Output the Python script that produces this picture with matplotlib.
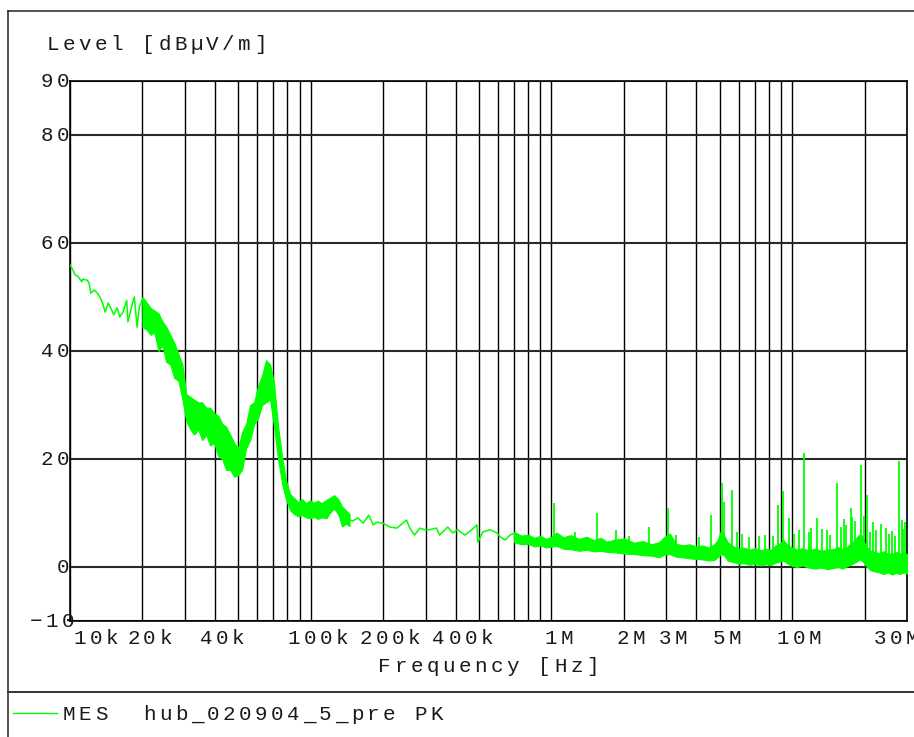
import numpy as np
import matplotlib
matplotlib.use("Agg")
import matplotlib.pyplot as plt
from matplotlib.lines import Line2D
from matplotlib.ticker import LogLocator, NullFormatter

W, H = 914, 737

# sweep below ~21 kHz, single thin trace
low_khz = [10.0, 10.2, 10.5, 10.8, 11.2, 11.3, 11.8, 12.0, 12.2, 12.6, 13.0, 13.3,
           13.6, 14.0, 14.4, 14.9, 15.2, 15.7, 16.1, 16.6, 17.2, 17.4, 18.1, 18.5,
           19.0, 19.4, 20.1, 20.5, 21.0, 21.5]
low_lvl = [55.9, 55.3, 54.1, 53.8, 52.8, 53.3, 53.1, 52.6, 50.7, 51.3, 50.7, 50.0,
           49.1, 47.2, 48.9, 47.6, 46.7, 48.0, 46.3, 47.2, 49.4, 45.4, 48.5, 50.0,
           44.4, 48.1, 49.8, 44.4, 46.3, 43.9]

# noisy stretch 20k..145k: lower / upper swing of the trace
lf_khz = [20.0, 20.8, 21.6, 22.4, 23.3, 24.2, 25.1, 26.1, 27.1, 28.2, 29.3, 30.4,
          31.6, 32.8, 34.1, 35.4, 36.8, 38.2, 39.7, 41.3, 42.9, 44.5, 46.3, 48.1,
          49.9, 51.9, 53.9, 56.0, 58.2, 60.4, 62.8, 65.2, 67.8, 70.4, 73.2, 76.0,
          79.0, 82.1, 85.3, 88.6, 92.0, 95.6, 99.4, 103, 107, 111, 116, 120, 125,
          130, 135, 140, 145]
lf_lo = [44.4, 44.0, 43.0, 43.5, 40.0, 41.0, 38.0, 37.5, 35.0, 34.5, 31.0, 27.0,
         25.5, 24.5, 25.5, 23.5, 24.5, 22.5, 23.0, 20.5, 20.0, 18.0, 18.0, 16.7,
         17.0, 18.0, 22.0, 23.5, 26.5, 27.5, 30.0, 30.5, 31.0, 26.0, 20.0, 15.5,
         12.5, 10.5, 9.8, 9.4, 9.6, 9.2, 9.0, 9.3, 8.9, 9.2, 9.0, 10.0, 10.8,
         9.8, 7.5, 8.0, 7.6]
lf_hi = [50.0, 49.0, 48.0, 47.5, 47.0, 45.5, 44.5, 43.0, 41.5, 39.5, 37.5, 32.0,
         31.5, 31.0, 30.5, 30.5, 29.5, 29.5, 28.5, 28.0, 26.5, 26.0, 24.5, 23.0,
         22.0, 25.0, 26.5, 30.0, 30.5, 33.5, 35.5, 38.3, 37.5, 34.0, 26.0, 20.5,
         16.0, 13.5, 12.8, 12.0, 12.6, 11.8, 12.4, 11.9, 12.3, 11.8, 12.4, 12.8,
         13.3, 12.6, 11.2, 10.5, 9.8]

# thin trace 140k..700k
mid_khz = [142, 149, 157, 165, 174, 182, 188, 200, 213, 228, 241, 250, 258, 270,
           284, 297, 312, 333, 343, 371, 389, 408, 437, 467, 490, 495, 519, 555,
           594, 612, 642, 673, 706]
mid_lvl = [9.0, 8.5, 9.1, 8.1, 9.6, 7.8, 8.3, 8.1, 7.4, 7.2, 8.1, 8.7, 7.2, 5.9,
           7.2, 6.9, 6.9, 7.2, 5.9, 7.4, 6.3, 6.9, 5.9, 6.9, 7.8, 4.6, 6.5, 6.9,
           6.3, 5.6, 5.0, 5.9, 6.3]

# noise floor 700k..30M: lower / upper edge
hf_mhz = [0.70, 0.75, 0.80, 0.85, 0.90, 0.95, 1.0, 1.05, 1.12, 1.2, 1.3, 1.4, 1.5,
          1.6, 1.7, 1.85, 2.0, 2.2, 2.4, 2.6, 2.8, 2.95, 3.1, 3.3, 3.5, 3.75, 4.0,
          4.25, 4.5, 4.75, 4.9, 5.05, 5.2, 5.4, 5.7, 6.0, 6.3, 6.65, 7.0, 7.4, 7.8,
          8.2, 8.5, 8.9, 9.2, 9.6, 10.0, 10.5, 11.0, 11.7, 12.5, 13.2, 14.0, 14.8,
          15.5, 16.2, 17.0, 17.8, 18.5, 19.0, 19.5, 20.0, 20.5, 21.2, 22.0, 23.0,
          24.0, 25.0, 26.0, 27.0, 28.0, 29.0, 30.0]
hf_lo = [4.6, 4.2, 4.3, 3.8, 4.0, 3.6, 3.8, 3.9, 3.4, 3.3, 3.0, 3.2, 2.9,
         3.0, 2.8, 2.7, 2.5, 2.4, 2.2, 2.1, 1.8, 2.3, 2.4, 1.9, 1.8, 1.6, 1.5,
         1.4, 1.2, 1.3, 1.8, 2.4, 2.2, 1.2, 0.9, 0.6, 0.7, 0.4, 0.6, 0.3, 0.5,
         0.4, 0.8, 1.0, 1.2, 0.6, 0.2, 0.0, 0.3, -0.1, -0.3, -0.1, -0.4, -0.2,
         0.0, -0.3, 0.2, 0.6, 1.0, 1.4, 1.2, 0.6, 0.0, -0.6, -0.8, -1.0,
         -1.3, -1.0, -1.4, -1.1, -1.3, -1.0, -1.2]
hf_hi = [6.5, 5.8, 6.0, 5.4, 5.8, 5.2, 5.6, 6.4, 5.5, 5.9, 5.2, 5.6, 5.0,
         5.4, 4.7, 5.1, 5.3, 4.5, 4.8, 4.2, 4.6, 5.6, 6.2, 4.3, 4.0, 4.2, 3.8,
         4.0, 3.6, 4.2, 5.0, 6.6, 6.0, 4.6, 3.8, 3.4, 3.6, 3.2, 3.5, 3.1, 3.4,
         3.2, 3.9, 4.4, 5.0, 4.0, 3.6, 3.2, 3.5, 3.1, 3.4, 3.0, 3.2, 3.3,
         3.7, 3.3, 3.8, 4.6, 5.4, 6.0, 5.8, 4.4, 3.6, 3.0, 2.8, 2.6,
         2.9, 2.5, 2.4, 2.8, 2.5, 2.7, 2.4]

# narrowband peaks above the floor
spike_mhz = [1.02, 1.25, 1.54, 1.86, 2.1, 2.55, 3.06, 3.3, 4.1, 4.62, 5.1, 5.2,
             5.6, 5.9, 6.2, 6.6, 7.3, 7.7, 8.3, 8.7, 9.2, 9.7, 10.2, 10.7, 11.2,
             11.8, 12.0, 12.7, 13.3, 13.9, 14.4, 15.3, 15.9, 16.4, 16.8, 17.5,
             17.8, 18.3, 19.3, 19.8, 20.5, 21.0, 21.6, 22.4, 23.5, 24.5, 25.2,
             26.0, 26.8, 27.7, 28.5, 29.0, 29.5]
spike_lvl = [11.9, 6.5, 10.0, 6.8, 5.8, 7.4, 10.9, 6.0, 5.5, 9.6, 15.6, 12.0,
             14.3, 6.5, 6.2, 5.6, 5.8, 6.0, 5.8, 11.5, 14.1, 9.1, 6.2, 6.8, 21.1,
             6.5, 7.2, 9.1, 7.0, 6.8, 6.0, 15.6, 7.5, 8.9, 7.8, 10.9,
             9.3, 8.5, 18.8, 9.5, 13.3, 6.5, 8.3, 6.8, 8.0, 7.2, 6.2,
             6.6, 5.8, 19.6, 8.7, 7.0, 8.4]

x_ticks = [10e3, 20e3, 40e3, 100e3, 200e3, 400e3, 1e6, 2e6, 3e6, 5e6, 10e6, 30e6]
x_labels = ["10k", "20k", "40k", "100k", "200k", "400k", "1M", "2M", "3M", "5M",
            "10M", "30M"]
y_ticks = [-10, 0, 20, 40, 60, 80, 90]
y_labels = ["\u221210", "0", "20", "40", "60", "80", "90"]

GREEN = "#00ff00"
TXT = "#1a1a1a"
MONO = ["Liberation Mono", "DejaVu Sans Mono"]

fig = plt.figure(figsize=(W / 100, H / 100), dpi=100)
ax = fig.add_axes([70 / W, 1 - 621 / H, 837 / W, 540 / H])
ax.set_xscale("log")
ax.set_xlim(10e3, 30e6)
ax.set_ylim(-10, 90)

# grid: every 1..9 step per decade, levels every 20 dB
ax.xaxis.set_major_locator(LogLocator(base=10, subs=np.arange(1, 10)))
ax.xaxis.set_minor_locator(LogLocator(base=10, subs=[]))
ax.xaxis.set_major_formatter(NullFormatter())
ax.xaxis.set_minor_formatter(NullFormatter())
ax.set_yticks(y_ticks)
ax.set_yticklabels([])
ax.tick_params(length=0)
ax.grid(True, axis="x", color="black", lw=1.0)
ax.grid(True, axis="y", color="#2a2a2a", lw=1.5)
for sp in ax.spines.values():
    sp.set_color("black")
    sp.set_linewidth(1.2)

# trace
ax.plot(np.array(low_khz) * 1e3, low_lvl, color=GREEN, lw=1.1, zorder=3)
ax.fill_between(np.array(lf_khz) * 1e3, lf_lo, lf_hi, color=GREEN, lw=0.8,
                edgecolor=GREEN, zorder=3)
ax.plot(np.array(mid_khz) * 1e3, mid_lvl, color=GREEN, lw=1.1, zorder=3)
hf = np.array(hf_mhz) * 1e6
ax.fill_between(hf, hf_lo, hf_hi, color=GREEN, lw=0.8, edgecolor=GREEN, zorder=3)
sf = np.array(spike_mhz) * 1e6
base = np.interp(np.log10(sf), np.log10(hf), hf_lo)
ax.vlines(sf, base, spike_lvl, color=GREEN, lw=1.3, zorder=3)


def spaced(x, y, s, pitch=16, size=15, color=TXT):
    # fixed-pitch text, x = left edge of first cell, y = baseline (pixels from top)
    for i, ch in enumerate(s):
        fig.text((x + i * pitch + pitch / 2) / W, 1 - y / H, ch, ha="center",
                 va="baseline", fontsize=size, family=MONO, color=color)


fig.canvas.draw()
to_px = ax.transData.transform

for i, (f, lab) in enumerate(zip(x_ticks, x_labels)):
    px = to_px((f, 0))[0]
    w = 16 * len(lab)
    if i == 0:
        left = px + 2
    elif i == len(x_ticks) - 1:
        left = px - 11 - w / 2
    else:
        left = px + 7 - w / 2
    spaced(left, 644, lab)

for v, lab in zip(y_ticks, y_labels):
    py = H - to_px((10e3, v))[1]
    right = 76 if v < 0 else 71
    spaced(right - 16 * len(lab), py + 6, lab)

spaced(44.5, 50, "Level [dB\u00b5V/m]")
spaced(488.5 - 14 * 8, 672, "Frequency [Hz]")
spaced(61, 720.5, "MES  hub_020904_5_pre PK")


def px_line(x0, y0, x1, y1, **kw):
    fig.add_artist(Line2D([x0 / W, x1 / W], [1 - y0 / H, 1 - y1 / H],
                          transform=fig.transFigure, **kw))


# outer frame and legend separator
px_line(8, 11, W, 11, color="#222222", lw=1.1)
px_line(8, 11, 8, H, color="#222222", lw=1.1)
px_line(8, 692, W, 692, color="#333333", lw=1.4)
px_line(13, 713, 57, 713, color=GREEN, lw=1.0)

fig.savefig("out.png", dpi=100)
